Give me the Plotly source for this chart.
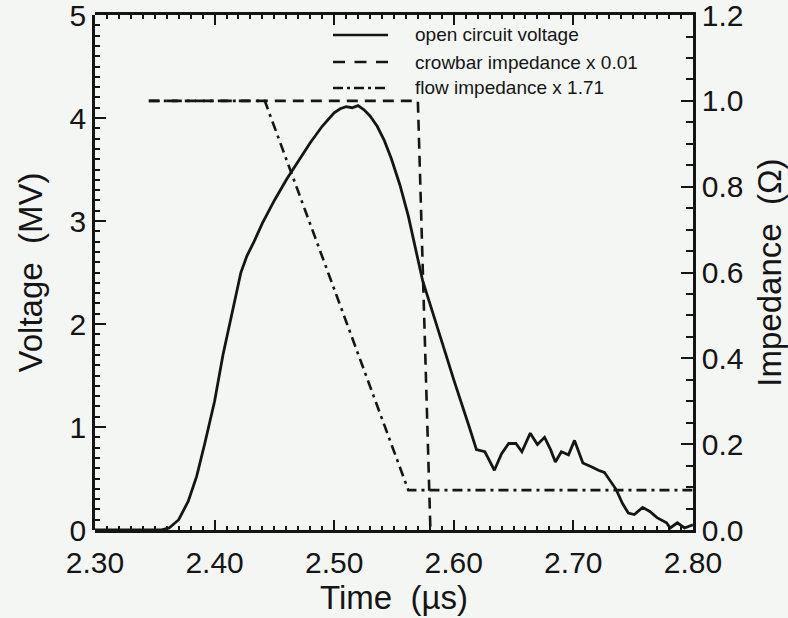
import plotly.graph_objects as go

# ---- data ----
time_v = [2.300, 2.355, 2.362, 2.370, 2.378, 2.385, 2.392, 2.400, 2.407, 2.414,
          2.418, 2.422, 2.427, 2.433, 2.440, 2.450, 2.460, 2.470, 2.480, 2.490,
          2.500, 2.505, 2.510, 2.515, 2.520, 2.525, 2.530, 2.536, 2.542, 2.548,
          2.555, 2.562, 2.568, 2.574, 2.580, 2.587, 2.593, 2.600, 2.607, 2.613,
          2.619, 2.626, 2.634, 2.640, 2.646, 2.652, 2.657, 2.664, 2.670, 2.676,
          2.681, 2.685, 2.690, 2.696, 2.701, 2.708, 2.716, 2.721, 2.726, 2.731,
          2.736, 2.741, 2.746, 2.751, 2.758, 2.764, 2.770, 2.778, 2.781, 2.787,
          2.793, 2.800]
voltage = [0.00, 0.00, 0.02, 0.10, 0.28, 0.52, 0.85, 1.25, 1.70, 2.08,
           2.30, 2.50, 2.66, 2.80, 2.98, 3.20, 3.40, 3.58, 3.76, 3.92,
           4.05, 4.09, 4.11, 4.10, 4.12, 4.08, 4.02, 3.92, 3.78, 3.60,
           3.35, 3.05, 2.72, 2.42, 2.20, 1.95, 1.72, 1.46, 1.22, 1.00,
           0.78, 0.76, 0.58, 0.74, 0.84, 0.84, 0.76, 0.94, 0.83, 0.90,
           0.78, 0.66, 0.76, 0.73, 0.87, 0.65, 0.61, 0.58, 0.56, 0.48,
           0.39, 0.26, 0.165, 0.15, 0.22, 0.18, 0.12, 0.07, 0.02, 0.07,
           0.02, 0.05]

time_crowbar = [2.345, 2.570, 2.5805]
crowbar_imp = [1.0, 1.0, 0.0]

time_flow = [2.345, 2.442, 2.562, 2.7995]
flow_imp = [1.0, 1.0, 0.093, 0.093]

legend_labels = ["open circuit voltage", "crowbar impedance x 0.01", "flow impedance x 1.71"]

X_RANGE = [2.30, 2.8001]
V_RANGE = [0, 5.0004]
Z_RANGE = [0, 1.2001]

# ---- styling ----
INK = "#151515"
BG = "#f4f6f4"
FONT = "Liberation Sans, Arial, Helvetica, sans-serif"
DASH = "11px,7px"
DASHDOT = "10px,5px,3px,5px"

fig = go.Figure()
fig.add_trace(go.Scatter(x=time_v, y=voltage, mode="lines", name=legend_labels[0],
                         line=dict(color=INK, width=2.8), xaxis="x2", yaxis="y3"))
fig.add_trace(go.Scatter(x=time_crowbar, y=crowbar_imp, mode="lines", name=legend_labels[1],
                         line=dict(color=INK, width=2.6, dash=DASH, simplify=False),
                         xaxis="x2", yaxis="y2"))
fig.add_trace(go.Scatter(x=time_flow, y=flow_imp, mode="lines", name=legend_labels[2],
                         line=dict(color=INK, width=2.6, dash=DASHDOT, simplify=False),
                         xaxis="x2", yaxis="y2"))

# manual legend (line samples + labels) in paper coordinates
W, H = 598.0, 515.0
def px(xp):
    return (xp - 95) / W
def py(yp):
    return (530 - yp) / H

rows_y = [35, 62, 88]
styles = ["solid", "12px,9.5px", "10px,4px,3px,4px"]
for lab, yy, st in zip(legend_labels, rows_y, styles):
    fig.add_shape(type="line", xref="paper", yref="paper",
                  x0=px(333), x1=px(388), y0=py(yy), y1=py(yy),
                  line=dict(color=INK, width=2.6, dash=st))
    fig.add_annotation(xref="paper", yref="paper", x=px(413), y=py(yy),
                       xanchor="left", yanchor="middle", text=lab, showarrow=False,
                       font=dict(family=FONT, size=19, color=INK))

tick_font = dict(family=FONT, size=30, color=INK)
title_font = dict(family=FONT, size=33, color=INK)

fig.update_layout(
    width=788, height=618,
    margin=dict(l=95, r=95, t=15, b=88, autoexpand=False),
    paper_bgcolor=BG, plot_bgcolor="rgba(0,0,0,0)",
    showlegend=False,
    font=dict(family=FONT, color=INK),
    # base axes (carry no data; the overlays below are drawn on them)
    xaxis=dict(range=X_RANGE, visible=False, automargin=False),
    yaxis=dict(range=V_RANGE, visible=False, automargin=False),
    # time axis: frame line, inside ticks (bottom + top), labels, title
    xaxis2=dict(overlaying="x", anchor="y", side="bottom", range=X_RANGE,
                showline=True, linecolor=INK, linewidth=2.5, mirror="ticks",
                showgrid=False, zeroline=False, automargin=False,
                tickmode="linear", tick0=2.30, dtick=0.1, tickformat=".2f",
                ticks="inside", ticklen=10, tickwidth=2, tickcolor=INK,
                tickfont=tick_font, ticklabelstandoff=4, ticklabeloverflow="allow",
                minor=dict(dtick=0.01, ticklen=4, ticks="inside",
                           tickcolor=INK, tickwidth=2),
                title=dict(text="Time  (µs)", font=title_font, standoff=7)),
    # voltage axis (left)
    yaxis3=dict(overlaying="y", anchor="x", side="left", range=V_RANGE,
                showline=True, linecolor=INK, linewidth=2.5,
                showgrid=False, zeroline=False, automargin=False,
                tickmode="linear", tick0=0, dtick=1,
                ticks="inside", ticklen=11, tickwidth=2, tickcolor=INK,
                tickfont=tick_font, ticklabeloverflow="allow",
                minor=dict(dtick=0.1, ticklen=5, ticks="inside",
                           tickcolor=INK, tickwidth=2),
                title=dict(text="Voltage  (MV)", font=title_font, standoff=18)),
    # impedance axis (right)
    yaxis2=dict(overlaying="y", anchor="x", side="right", range=Z_RANGE,
                showline=True, linecolor=INK, linewidth=2.5,
                showgrid=False, zeroline=False, automargin=False,
                tickmode="linear", tick0=0, dtick=0.2, tickformat=".1f",
                ticks="inside", ticklen=12, tickwidth=2, tickcolor=INK,
                tickfont=tick_font, ticklabeloverflow="allow",
                minor=dict(dtick=0.05, ticklen=7, ticks="inside",
                           tickcolor=INK, tickwidth=2),
                title=dict(text="Impedance  (Ω)", font=title_font, standoff=16)),
)

fig.write_html("out.html", config={"displayModeBar": False},
               post_script="document.body.style.margin='0px';")
